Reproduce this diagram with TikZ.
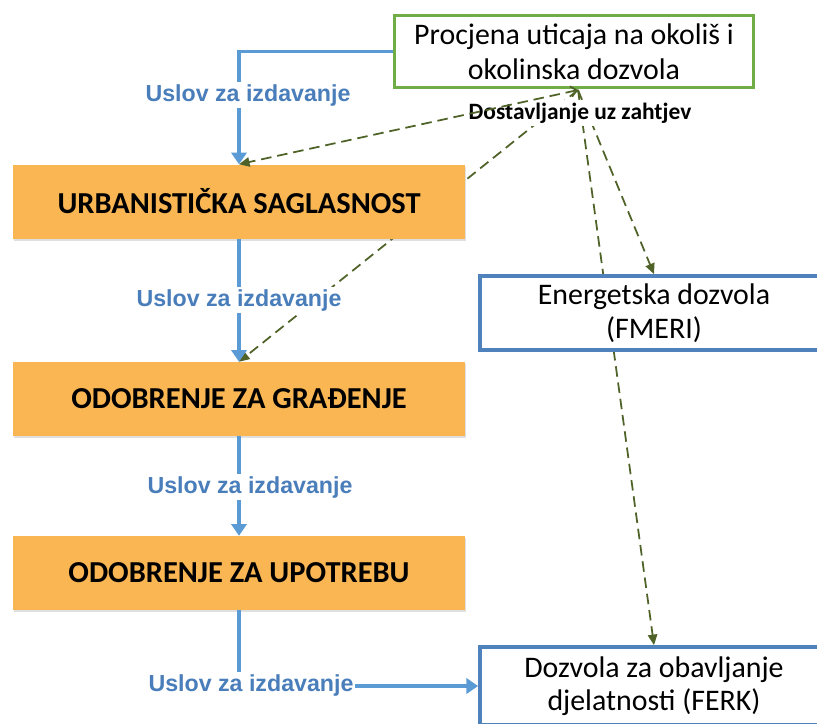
\documentclass[tikz,border=0pt]{standalone}
\usepackage{fontspec}
\setmainfont{Carlito}
\newfontfamily\lblfont{Liberation Sans}
\usetikzlibrary{arrows.meta,shadows,calc}
\pgfdeclarelayer{background}
\pgfsetlayers{background,main}
\definecolor{orangefill}{HTML}{F9B653}
\definecolor{grn}{HTML}{70AD47}
\definecolor{bbord}{HTML}{4F81BD}
\definecolor{lblue}{HTML}{5B9BD5}
\definecolor{ublue}{HTML}{4A7EBB}
\definecolor{dgreen}{HTML}{4F6228}
\begin{document}
\begin{tikzpicture}[x=0.03cm,y=-0.03cm,
  orangebox/.style={fill=orangefill, minimum width=13.56cm, minimum height=2.22cm,
    font=\fontsize{26}{30}\selectfont\bfseries,
    drop shadow={shadow xshift=1pt,shadow yshift=-2pt,opacity=0.25}},
  greenbox/.style={draw=grn, line width=2.5pt, fill=white, align=center,
    minimum width=10.77cm, minimum height=2.16cm, inner sep=0pt,
    font=\fontsize{25.5}{30}\selectfont},
  bluebox/.style={draw=bbord, line width=3.2pt, fill=white, align=center,
    minimum width=10.44cm, inner sep=0pt, font=\fontsize{25.5}{28.5}\selectfont},
  flow/.style={draw=lblue, line width=3.2pt, -{Triangle[width=13pt,length=10pt]}},
  uslov/.style={text=ublue, font=\lblfont\bfseries\fontsize{19.8}{22}\selectfont,
    fill=white, inner sep=1.5pt},
  reqline/.style={draw=dgreen, line width=1.5pt, dash pattern=on 9pt off 5pt,
    -{Triangle[width=8pt,length=9pt]}},
  reqlabel/.style={font=\fontsize{20}{24}\selectfont\bfseries, fill=white, inner sep=2pt}
]
\useasboundingbox (0,0) rectangle (817,723);
\begin{scope}
\clip (0,0) rectangle (817,723);

% main nodes
\node[greenbox] (grn) at (574,51.5) {Procjena uticaja na okoliš i\\okolinska dozvola};
\node[orangebox] (urb) at (239,201.5) {URBANISTIČKA SAGLASNOST};
\node[orangebox] (gra) at (239,399) {ODOBRENJE ZA GRAĐENJE};
\node[orangebox] (upo) at (239,573) {ODOBRENJE ZA UPOTREBU};
\node[bluebox, minimum height=2.22cm] (ene) at (654,313) {Energetska dozvola\\(FMERI)};
\node[bluebox, minimum height=2.34cm] (dzv) at (654,686) {Dozvola za obavljanje\\djelatnosti (FERK)};

\coordinate (hub) at (578,90);

% dashed request lines behind the boxes
\begin{pgfonlayer}{background}
\draw[reqline] (hub) -- (gra.north);
\draw[reqline] (hub) -- (ene.north);
\draw[reqline] (hub) -- (dzv.north);
\node[reqlabel] (req) at (580,113) {Dostavljanje uz zahtjev};
\end{pgfonlayer}
\draw[draw=dgreen, line width=1.5pt, dash pattern=on 9pt off 5pt,
  {Straight Barb[width=9pt,length=5pt]}-{Triangle[width=8pt,length=9pt]}] (hub) -- (urb.north);

% blue flow connectors
\draw[flow] (grn.west) -| (urb.north);
\draw[flow] (urb.south) -- (gra.north);
\draw[flow] (gra.south) -- (upo.north);
\draw[flow] (upo.south) |- (dzv.west);

\node[uslov] (l1) at (248,95) {Uslov za izdavanje};
\node[uslov] (l2) at (239,300) {Uslov za izdavanje};
\node[uslov] (l3) at (250,487) {Uslov za izdavanje};
\node[uslov] (l4) at (251,685) {Uslov za izdavanje};
\end{scope}
\end{tikzpicture}
\end{document}
